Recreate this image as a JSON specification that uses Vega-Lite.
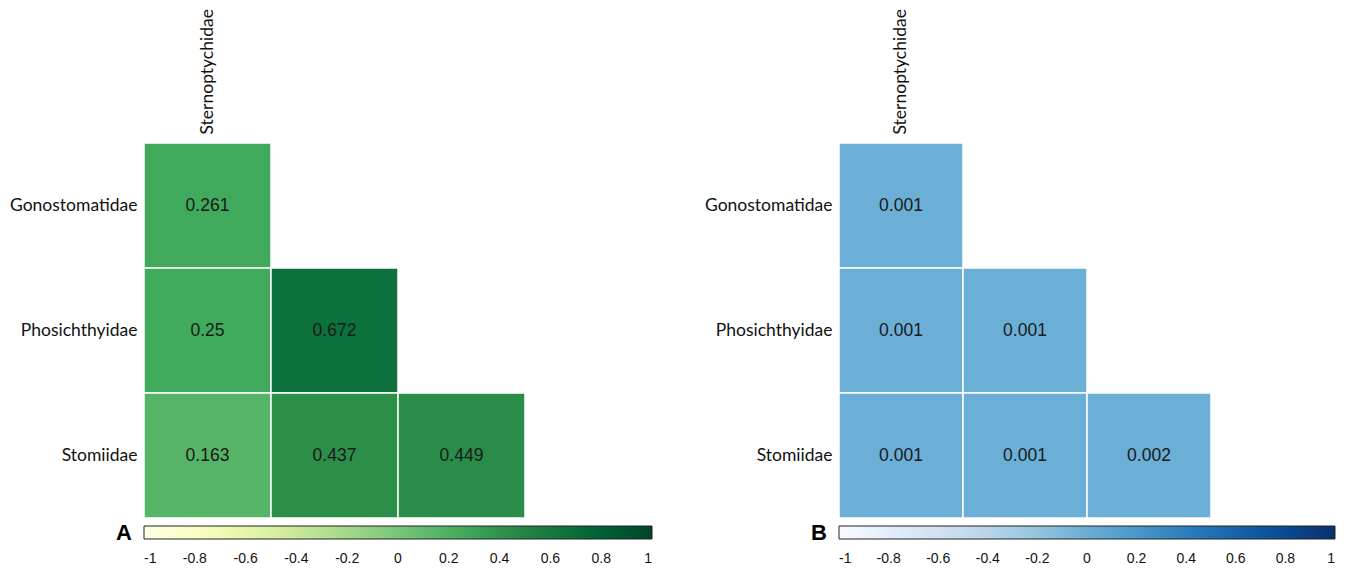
{
  "$schema": "https://vega.github.io/schema/vega-lite/v6.json",
  "padding": {"left": 9, "top": 8, "right": 5, "bottom": 2},
  "background": "white",
  "spacing": 51,
  "config": {
    "view": {"stroke": null},
    "axis": {"domain": false, "ticks": false, "grid": false, "labelFont": "Lato", "labelFontSize": 17.5, "labelColor": "#111", "title": null},
    "legend": {"labelFont": "Liberation Sans", "labelFontSize": 14, "labelColor": "#111"}
  },
  "datasets": {
    "a": [
      {"row": "Gonostomatidae", "col": "Sternoptychidae", "v": 0.261},
      {"row": "Phosichthyidae", "col": "Sternoptychidae", "v": 0.25},
      {"row": "Phosichthyidae", "col": "Gonostomatidae", "v": 0.672},
      {"row": "Stomiidae", "col": "Sternoptychidae", "v": 0.163},
      {"row": "Stomiidae", "col": "Gonostomatidae", "v": 0.437},
      {"row": "Stomiidae", "col": "Phosichthyidae", "v": 0.449}
    ],
    "b": [
      {"row": "Gonostomatidae", "col": "Sternoptychidae", "v": 0.001},
      {"row": "Phosichthyidae", "col": "Sternoptychidae", "v": 0.001},
      {"row": "Phosichthyidae", "col": "Gonostomatidae", "v": 0.001},
      {"row": "Stomiidae", "col": "Sternoptychidae", "v": 0.001},
      {"row": "Stomiidae", "col": "Gonostomatidae", "v": 0.001},
      {"row": "Stomiidae", "col": "Phosichthyidae", "v": 0.002}
    ]
  },
  "resolve": {"scale": {"color": "independent"}, "legend": {"color": "independent"}},
  "hconcat": [
    {
      "width": 508,
      "height": 375,
      "data": {"name": "a"},
      "encoding": {
        "x": {"field": "col", "type": "nominal", "scale": {"domain": ["Sternoptychidae", "Gonostomatidae", "Phosichthyidae", "Stomiidae"], "paddingInner": 0, "paddingOuter": 0},
          "axis": {"orient": "top", "labelAngle": -90, "labelPadding": 9, "minExtent": 134, "maxExtent": 134, "labelExpr": "datum.value == 'Sternoptychidae' ? datum.value : ''"}},
        "y": {"field": "row", "type": "nominal", "scale": {"domain": ["Gonostomatidae", "Phosichthyidae", "Stomiidae"], "paddingInner": 0, "paddingOuter": 0},
          "axis": {"labelPadding": 7, "minExtent": 133, "maxExtent": 133}}
      },
      "layer": [
        {
          "mark": {"type": "rect", "stroke": "white", "strokeWidth": 1.5},
          "encoding": {
            "color": {"field": "v", "type": "quantitative",
              "scale": {"domain": [-1, -0.75, -0.5, -0.25, 0, 0.25, 0.5, 0.75, 1], "range": ["#ffffe5", "#f7fcb9", "#d9f0a3", "#addd8e", "#78c679", "#41ab5d", "#238443", "#006837", "#004529"]},
              "legend": {"orient": "none", "legendX": -28, "legendY": 383, "direction": "horizontal", "title": "A", "titleOrient": "left", "titleFontSize": 22, "titleFont": "Liberation Sans", "titleFontWeight": "bold", "titleColor": "#000", "titlePadding": 12,
                "gradientLength": 508, "gradientThickness": 13, "gradientStrokeColor": "#222", "gradientStrokeWidth": 1, "labelOffset": 13, "labelFontSize": 14, "labelExpr": "datum.value + ''",
                "values": [-1, -0.8, -0.6, -0.4, -0.2, 0, 0.2, 0.4, 0.6, 0.8, 1], "labelOverlap": false}}
          }
        },
        {
          "mark": {"type": "text", "font": "Liberation Sans", "fontSize": 17.5, "color": "#1a1a1a"},
          "encoding": {"text": {"field": "v", "type": "quantitative"}}
        }
      ]
    },
    {
      "width": 496,
      "height": 375,
      "data": {"name": "b"},
      "encoding": {
        "x": {"field": "col", "type": "nominal", "scale": {"domain": ["Sternoptychidae", "Gonostomatidae", "Phosichthyidae", "Stomiidae"], "paddingInner": 0, "paddingOuter": 0},
          "axis": {"orient": "top", "labelAngle": -90, "labelPadding": 9, "minExtent": 134, "maxExtent": 134, "labelExpr": "datum.value == 'Sternoptychidae' ? datum.value : ''"}},
        "y": {"field": "row", "type": "nominal", "scale": {"domain": ["Gonostomatidae", "Phosichthyidae", "Stomiidae"], "paddingInner": 0, "paddingOuter": 0},
          "axis": {"labelPadding": 7, "minExtent": 133, "maxExtent": 133}}
      },
      "layer": [
        {
          "mark": {"type": "rect", "stroke": "white", "strokeWidth": 1.5},
          "encoding": {
            "color": {"field": "v", "type": "quantitative",
              "scale": {"domain": [-1, -0.75, -0.5, -0.25, 0, 0.25, 0.5, 0.75, 1], "range": ["#f7fbff", "#deebf7", "#c6dbef", "#9ecae1", "#6baed6", "#4292c6", "#2171b5", "#08519c", "#08306b"]},
              "legend": {"orient": "none", "legendX": -28, "legendY": 383, "direction": "horizontal", "title": "B", "titleOrient": "left", "titleFontSize": 22, "titleFont": "Liberation Sans", "titleFontWeight": "bold", "titleColor": "#000", "titlePadding": 12,
                "gradientLength": 496, "gradientThickness": 13, "gradientStrokeColor": "#222", "gradientStrokeWidth": 1, "labelOffset": 13, "labelFontSize": 14, "labelExpr": "datum.value + ''",
                "values": [-1, -0.8, -0.6, -0.4, -0.2, 0, 0.2, 0.4, 0.6, 0.8, 1], "labelOverlap": false}}
          }
        },
        {
          "mark": {"type": "text", "font": "Liberation Sans", "fontSize": 17.5, "color": "#1a1a1a"},
          "encoding": {"text": {"field": "v", "type": "quantitative", "format": ".3f"}}
        }
      ]
    }
  ]
}
